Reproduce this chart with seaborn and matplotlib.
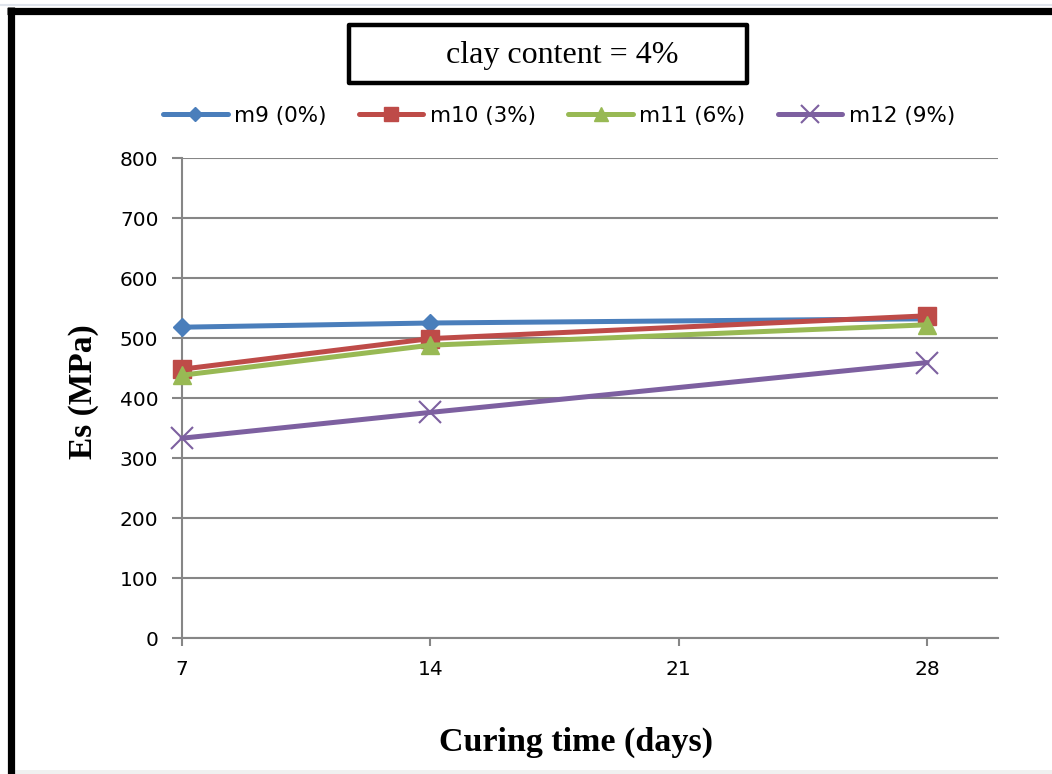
import matplotlib
matplotlib.use("Agg")
import matplotlib.pyplot as plt
import matplotlib.patches as mpatches
import numpy as np
import pandas as pd
import seaborn as sns

# Curing time (days) and secant modulus Es (MPa) for each mix
days = [7, 14, 28]
m9 = [518, 525, 532]
m10 = [448, 499, 537]
m11 = [438, 488, 522]
m12 = [333, 376, 459]

series_names = ["m9 (0%)", "m10 (3%)", "m11 (6%)", "m12 (9%)"]
series_values = [m9, m10, m11, m12]
x_ticks = [7, 14, 21, 28]
y_ticks = [0, 100, 200, 300, 400, 500, 600, 700, 800]

colors = ["#4A7EBB", "#BE4B48", "#98B954", "#7D60A0"]
markers = ["D", "s", "^", "x"]
marker_sizes = [9, 13, 13, 16]

df = pd.DataFrame({
    "day": np.tile(days, len(series_names)),
    "Es": np.concatenate(series_values),
    "mix": np.repeat(series_names, len(days)),
})

sns.set_theme(style="white")
plt.rcParams["font.family"] = ["DejaVu Sans"]
plt.rcParams["text.color"] = "black"

W, H = 1052, 774
fig = plt.figure(figsize=(W / 100, H / 100), dpi=100, facecolor="white")

# plot area in pixel bounds
left, right, top, bottom = 182, 998, 158, 638
ax = fig.add_axes([left / W, 1 - bottom / H, (right - left) / W, (bottom - top) / H])
ax.set_facecolor("white")

for name, col, mk, ms in zip(series_names, colors, markers, marker_sizes):
    sub = df[df["mix"] == name]
    sns.lineplot(data=sub, x="day", y="Es", ax=ax, color=col, marker=mk,
                 markersize=ms, markeredgecolor=col, markerfacecolor=col,
                 markeredgewidth=1.5 if mk == "x" else 1, linewidth=3.6,
                 label=name, clip_on=False, zorder=3)

ax.set_xlim(7, 30)
ax.set_ylim(0, 800)
ax.set_xticks(x_ticks)
ax.set_yticks(y_ticks)
ax.set_xticklabels([str(v) for v in x_ticks])
ax.set_yticklabels([str(v) for v in y_ticks])

grid_col = "#868686"
ax.yaxis.grid(True, color=grid_col, linewidth=1.5)
ax.xaxis.grid(False)
ax.set_axisbelow(True)
for s in ["top", "right"]:
    ax.spines[s].set_visible(False)
for s in ["left", "bottom"]:
    ax.spines[s].set_color(grid_col)
    ax.spines[s].set_linewidth(1.5)

ax.tick_params(axis="y", direction="out", length=7, width=1.5, color=grid_col,
               pad=10, labelsize=14.5, labelcolor="black", left=True)
ax.tick_params(axis="x", direction="out", length=6, width=1.5, color=grid_col,
               pad=10, labelsize=14.5, labelcolor="black", bottom=True)

serif = ["Liberation Serif", "DejaVu Serif"]
ax.set_xlabel("Curing time (days)", fontsize=24.5, fontweight="bold", family=serif,
              color="black")
ax.set_ylabel("Es (MPa)", fontsize=24, fontweight="bold", family=serif, color="black")
ax.xaxis.set_label_coords((576 - left) / (right - left), (bottom - 727) / (bottom - top))
ax.yaxis.set_label_coords((99 - left) / (right - left), (bottom - 392) / (bottom - top))

# legend row above the plot area
handles, labels = ax.get_legend_handles_labels()
ax.get_legend().remove()
fig.legend(handles, labels, loc="center", bbox_to_anchor=(559 / W, 1 - 116 / H),
           ncol=4, frameon=False, fontsize=15.5, handlelength=3.0, markerscale=0.8,
           handletextpad=0.3, columnspacing=1.5, borderaxespad=0)

# boxed title
box_l, box_r, box_t, box_b = 347, 749, 23, 85
fig.patches.append(mpatches.Rectangle(
    ((box_l + 2) / W, 1 - (box_b - 2) / H), (box_r - box_l - 4) / W, (box_b - box_t - 4) / H,
    transform=fig.transFigure, facecolor="white", edgecolor="black", linewidth=3.2,
    joinstyle="round"))
fig.text(562 / W, 1 - 55 / H, "clay content = 4%", ha="center",
         va="center", fontsize=23, family=serif, color="black")

# outer chart frame (open on right and bottom)
fig.add_artist(plt.Line2D([10.5 / W, 10.5 / W], [0, 1 - 7 / H], transform=fig.transFigure,
                          color="black", linewidth=5.2, solid_capstyle="butt"))
fig.add_artist(plt.Line2D([7 / W, 1], [1 - 10.5 / H, 1 - 10.5 / H], transform=fig.transFigure,
                          color="black", linewidth=5.2, solid_capstyle="butt"))
fig.add_artist(plt.Line2D([0, 1], [1 - 4.5 / H, 1 - 4.5 / H], transform=fig.transFigure,
                          color="#dfe4ec", linewidth=1.5))
fig.patches.append(mpatches.Rectangle((12 / W, 0), 1, 4 / H, transform=fig.transFigure,
                                      facecolor="#f0f0f0", edgecolor="none"))

fig.savefig("out.png", dpi=100, facecolor="white")
